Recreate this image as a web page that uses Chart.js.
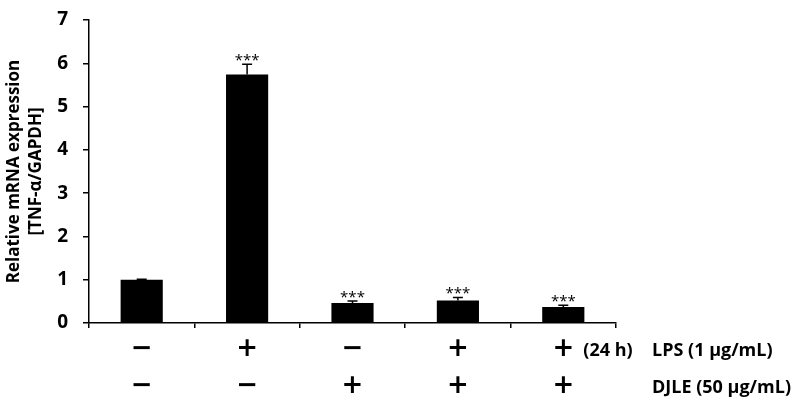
<!DOCTYPE html>
<html>
<head>
<meta charset="utf-8">
<script src="https://cdn.jsdelivr.net/npm/chart.js@4.4.1/dist/chart.umd.min.js"></script>
<style>
  html, body { margin: 0; padding: 0; background: #fff; }
  #wrap { width: 792px; height: 406px; }
</style>
</head>
<body>
<div id="wrap"><canvas id="grafica"></canvas></div>
<script>
// values
var grupos = ['Control', 'LPS', 'DJLE', 'LPS + DJLE', 'LPS + DJLE (24 h)'];
var medias = [1.0, 5.74, 0.46, 0.52, 0.37];
var errores = [0.01, 0.24, 0.05, 0.07, 0.04];
var signif = ['', '***', '***', '***', '***'];
var filaLPS = ['\u2212', '+', '\u2212', '+', '+'];
var filaDJLE = ['\u2212', '\u2212', '+', '+', '+'];
var ticksY = [0, 1, 2, 3, 4, 5, 6, 7];

var fuente = "'Open Sans', sans-serif";

var extras = {
  id: 'extras',
  afterDatasetsDraw: function(chart) {
    var ctx = chart.ctx;
    var x = chart.scales.x, y = chart.scales.y;
    ctx.save();
    ctx.strokeStyle = '#000';
    ctx.fillStyle = '#000';
    ctx.lineWidth = 1.5;
    medias.forEach(function(v, i) {
      var cx = x.getPixelForValue(i);
      var y0 = y.getPixelForValue(v);
      var y1 = y.getPixelForValue(v + errores[i]);
      ctx.beginPath();
      ctx.moveTo(cx, y0);
      ctx.lineTo(cx, y1);
      ctx.moveTo(cx - 5, y1);
      ctx.lineTo(cx + 5, y1);
      ctx.stroke();
      if (signif[i]) {
        ctx.font = '15px ' + fuente;
        ctx.textAlign = 'center';
        ctx.textBaseline = 'alphabetic';
        ctx.fillText(signif[i], cx, y1 + 1);
      }
      ctx.font = 'bold 26px DejaVu Sans';
      ctx.textAlign = 'center';
      ctx.textBaseline = 'middle';
      ctx.fillText(filaLPS[i], cx, 349);
      ctx.fillText(filaDJLE[i], cx, 386);
    });
    ctx.font = 'bold 18px ' + fuente;
    ctx.textAlign = 'left';
    ctx.textBaseline = 'middle';
    ctx.fillText('(24 h)', x.getPixelForValue(4) + 20, 351);
    ctx.fillText('LPS (1 \u03bcg/mL)', 652, 351);
    ctx.fillText('DJLE (50 \u03bcg/mL)', 652, 388);
    ctx.restore();
  }
};

var lienzo = document.getElementById('grafica').getContext('2d');
var grafica = new Chart(lienzo, {
  type: 'bar',
  data: {
    labels: grupos,
    datasets: [{
      data: medias,
      backgroundColor: '#000',
      borderWidth: 0,
      barPercentage: 0.4,
      categoryPercentage: 1
    }]
  },
  options: {
    responsive: true,
    maintainAspectRatio: false,
    animation: false,
    layout: { padding: { top: 20, right: 176, bottom: 78, left: 4 } },
    plugins: { legend: { display: false }, tooltip: { enabled: false } },
    scales: {
      x: {
        offset: true,
        grid: { offset: true, drawOnChartArea: false, drawTicks: true, tickLength: 5, color: '#000', lineWidth: 1.5 },
        border: { color: '#000', width: 1.5 },
        ticks: { display: false }
      },
      y: {
        min: 0,
        max: 7,
        afterBuildTicks: function(s) { s.ticks = ticksY.map(function(v) { return { value: v }; }); },
        afterFit: function(s) { s.width = 85; s.paddingTop = 0; s.paddingBottom = 0; },
        grid: { drawOnChartArea: false, drawTicks: true, tickLength: 6, color: '#000', lineWidth: 1.5 },
        border: { color: '#000', width: 1.5 },
        ticks: { color: '#000', padding: 15, font: { family: fuente, size: 19, weight: 'bold' } },
        title: {
          display: true,
          text: ['Relative mRNA expression', '[TNF-\u03b1/GAPDH]'],
          color: '#000',
          padding: 0,
          font: { family: fuente, size: 17, weight: 'bold', lineHeight: 1.25 }
        }
      }
    }
  },
  plugins: [extras]
});
</script>
</body>
</html>
